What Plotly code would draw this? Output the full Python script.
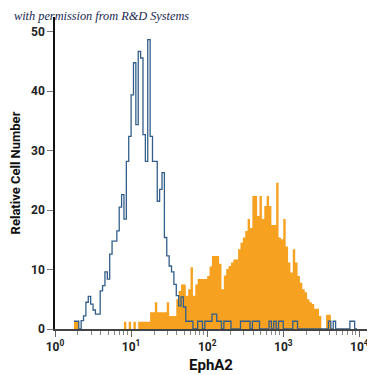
import numpy as np
import plotly.graph_objects as go

# ---------------- data ----------------
BINS_PER_DECADE = 32          # histogram channel width = 1/32 decade

# isotype control (open, blue outline): counts starting at bin 8
blue_first_bin = 8
blue_counts = [
    1.3, 1.3, 0, 1.4, 2.2, 4.5, 5.5, 4.2, 3.2, 2.5,          # 8-17
    2.5, 6.4, 7.3, 9.6, 8.4, 12.6, 14.8, 14.8, 16.5, 20.5,    # 18-27
    22.6, 18.5, 28.2, 32.4, 39.4, 44.8, 34.4, 46.7, 45.6, 32.7,  # 28-37
    28.2, 48.7, 32.4, 28.2, 28.2, 21.5, 23.5, 26.3, 15.4, 12.3,  # 38-47
    10.6, 9.6, 7.5, 5.6, 3.9, 5.4, 3.7, 1.3, 1.3, 1.3,         # 48-57
    0, 0, 1.3, 1.3, 0, 1.3, 1.3, 1.3, 2.5, 2.5,               # 58-67
    1.3, 1.3, 0, 1.3, 1.3, 1.3, 0, 0, 0, 0,                   # 68-77
    1.3, 1.3, 1.3, 1.3, 0, 1.3, 1.3, 1.3, 0, 0,               # 78-87
    0, 0, 1.3, 0, 1.3, 0, 1.3, 1.3, 0, 0,                     # 88-97
    0, 0, 1.3, 1.3, 0, 0, 0, 0, 0, 0,                         # 98-107
    0, 0, 0, 0, 0, 0, 0, 1.3, 0, 1.3,                         # 108-117
    0, 0, 0, 0, 0, 0, 1.3, 1.3, 0,                            # 118-126
]

# EphA2 stained (filled orange): counts starting at bin 8
orange_first_bin = 8
orange_counts = [
    1.2, 1.2, 0, 0, 0, 0, 0, 0, 0, 0,                         # 8-17
    0, 0, 0, 0, 0, 0, 0, 0, 0, 0,                             # 18-27
    0, 1.2, 0, 1.2, 0, 1.2, 0, 1.2, 1.2, 1.2,                 # 28-37
    1.2, 1.2, 2.8, 2.8, 4.5, 2.8, 2.8, 2.8, 2.8, 4.5,         # 38-47
    2.2, 2.2, 2.2, 5.0, 6.4, 7.5, 7.5, 5.6, 6.7, 10.4,        # 48-57
    5.6, 7.5, 8.4, 8.4, 8.4, 8.4, 8.9, 10.5, 12.3, 12.3,      # 58-67
    12.3, 11.0, 6.7, 9.0, 10.1, 10.6, 11.2, 11.7, 11.7, 13.4,  # 68-77
    14.5, 15.4, 16.5, 18.5, 17.0, 22.4, 22.4, 19.0, 22.4, 18.5,  # 78-87
    20.7, 22.4, 20.7, 17.5, 17.5, 24.6, 15.4, 15.1, 18.5, 13.9,  # 88-97
    11.2, 9.5, 13.4, 11.2, 8.9, 7.8, 6.7, 6.2, 5.0, 4.5,      # 98-107
    4.2, 3.4, 3.4, 2.2, 0, 0, 2.4, 2.4, 0,                    # 108-116
]

tick_exponents = [0, 1, 2, 3, 4]
tick_labels = ["10<sup>0</sup>", "10<sup>1</sup>", "10<sup>2</sup>",
               "10<sup>3</sup>", "10<sup>4</sup>"]
y_ticks = [0, 10, 20, 30, 40, 50]

x_title = "EphA2"
y_title = "Relative Cell Number"
credit = "with permission from R&D Systems"


def step_xy(first_bin, counts):
    counts = np.asarray(counts, dtype=float)
    idx = np.arange(first_bin, first_bin + len(counts) + 1)
    edges = 10 ** (idx / BINS_PER_DECADE)
    xs = list(edges)
    ys = list(counts) + [0.0]
    return xs, ys


ox, oy = step_xy(orange_first_bin, orange_counts)
bx, by = step_xy(blue_first_bin, blue_counts)

fig = go.Figure()
fig.add_trace(go.Scatter(
    x=ox, y=oy, mode="lines", line_shape="hv",
    line=dict(width=0, color="#F6A11F"),
    fill="tozeroy", fillcolor="#F6A11F",
    hoverinfo="skip", showlegend=False))
fig.add_trace(go.Scatter(
    x=bx, y=by, mode="lines", line_shape="hv",
    line=dict(width=1.3, color="#335F8A"),
    hoverinfo="skip", showlegend=False))

font_main = "Liberation Sans Narrow, Arial Narrow, Roboto, Liberation Sans, sans-serif"

# the page body has an 8px default margin, so the figure is 367px and offset
fig.update_layout(
    width=367, height=367,
    margin=dict(l=47, r=8, t=9, b=46),
    paper_bgcolor="white", plot_bgcolor="white",
    font=dict(family=font_main, color="#222"),
    xaxis=dict(
        type="log", range=[0, 4.1], automargin=False,
        tickvals=[10 ** e for e in tick_exponents],
        ticktext=["<b>" + t + "</b>" for t in tick_labels],
        ticks="outside", ticklen=6, tickwidth=1, tickcolor="#666",
        minor=dict(ticks="outside", ticklen=4, tickwidth=1, tickcolor="#888",
                   dtick="D1", showgrid=False),
        showline=True, linecolor="#444", linewidth=1.5,
        showgrid=False, zeroline=False,
        tickfont=dict(size=12, family=font_main, color="#222"),
        title=dict(text="<b>" + x_title + "</b>",
                   font=dict(size=15, family=font_main, color="#111"),
                   standoff=6),
    ),
    yaxis=dict(
        range=[0, 52.5], automargin=False,
        tickvals=y_ticks,
        ticktext=["<b>%d</b>" % v for v in y_ticks],
        ticks="outside", ticklen=6, tickwidth=1, tickcolor="#777",
        showline=True, linecolor="#111", linewidth=1.5,
        showgrid=False, zeroline=False,
        tickfont=dict(size=12, family=font_main, color="#222"),
        title=dict(text="<b>" + y_title + "</b>",
                   font=dict(size=13, family=font_main, color="#111"),
                   standoff=16),
    ),
    annotations=[dict(
        text="<i>" + credit + "</i>", xref="paper", yref="paper",
        x=-0.138, y=1.003, xanchor="left", yanchor="middle",
        showarrow=False,
        font=dict(size=12.3, family="Liberation Serif, DejaVu Serif, serif",
                  color="#1A2850"))],
)

fig.write_html("out.html")
